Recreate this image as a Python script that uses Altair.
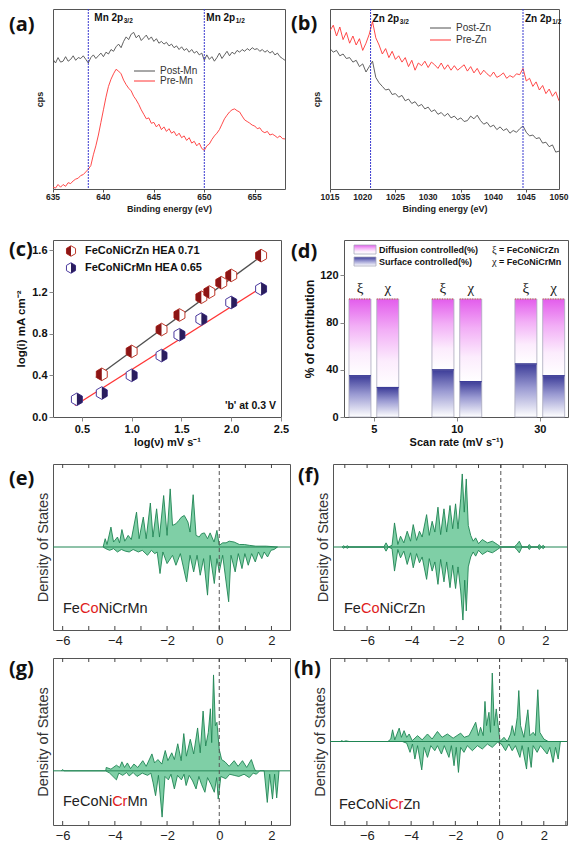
import altair as alt
import pandas as pd

FONT = "Liberation Sans"
SERIF = "Liberation Serif"
TAG_FONT = "Open Sans"

# ---------------- (a) XPS Mn 2p ----------------
a_start, a_step = 635.0, 0.25
a_post = [72, 70, 73, 70.5, 71, 73.5, 71, 72, 74, 71.5, 73, 72.5, 74, 72, 70, 73,
          74.5, 72.5, 74, 75.5, 73.5, 76, 75, 77.5, 76.5, 79, 80.5, 78.5, 82, 84.5, 83, 86,
          87, 84, 85.5, 82.5, 84, 85.5, 83, 84.5, 82, 83.5, 81, 82, 80.5, 81.5, 79.5, 80.5,
          78.5, 79.5, 77.5, 79, 77, 78, 76, 77.5, 75.5, 76.5, 74.5, 75.5, 71.5, 74.5, 72, 73.5,
          71, 73, 75.5, 72.5, 74.5, 76.5, 74, 76, 75, 77, 76, 77.5, 76.5, 78, 77, 78.5,
          77.5, 78, 76.5, 77.5, 76, 77, 75.5, 76.5, 74.5, 75.5, 73.5, 72.5, 71.5]
a_pre = [1, 0.5, 2.5, 1, 2.5, 1.5, 3.5, 3, 4.5, 5.5, 6, 7.5, 8, 9.5, 11, 13,
         19, 24, 30, 37, 44, 51, 57, 61, 64, 66.5, 65.5, 64, 60.5, 58, 56, 54.5,
         51.5, 49.5, 47, 44, 41.5, 39, 39.5, 36.5, 37, 34.5, 36, 33, 34.5, 32, 33.5, 31,
         32, 29.5, 31, 28.5, 29.5, 27, 28.5, 25.5, 26.5, 24, 25.5, 22.5, 21.5, 24, 25, 27.5,
         29.5, 31, 33, 36, 39, 41, 42.8, 44, 44.5, 43.5, 42.8, 40.5, 38.4, 37.5, 36.6, 35.5,
         35, 33.5, 34, 32, 31.3, 32, 30, 30.5, 29.6, 28.5, 29.5, 28, 27.8]
a_series = ["Post-Mn", "Pre-Mn"]
a_peaks = [638.5, 650.0]
a_peak_main = ["Mn 2p", "Mn 2p"]
a_peak_sub = ["3/2", "1/2"]
a_ticks = [635, 640, 645, 650, 655]

# ---------------- (b) XPS Zn 2p ----------------
b_start, b_step = 1015.0, 0.5
b_post = [78, 76, 77, 74, 75, 72.5, 73, 70.5, 71.5, 68, 69.5, 65, 68, 71, 62, 59,
          57, 55, 55.5, 52.5, 53, 51, 52, 49, 50, 47.5, 48.5, 46, 47, 44.5, 45.5, 43,
          44, 41.5, 42.5, 40.5, 42, 39.5, 40.5, 38.5, 39.5, 37.5, 38, 40.5, 39, 41, 38, 36,
          37, 34.5, 35.5, 33, 34.5, 32.5, 33.5, 31, 32.5, 31.5, 33.5, 35, 31.5, 29.5, 30, 28,
          28.5, 25.5, 26, 23.5, 24.5, 20.5, 21]
b_pre = [88, 91, 85, 90, 83, 87, 81, 85, 80, 83.5, 77, 81, 86, 93, 84, 80,
         75, 78, 73, 76.5, 72, 74, 70.5, 73, 68, 71.5, 66, 70, 68.5, 71, 67.5, 70.5,
         69, 67, 70, 66.5, 69, 66, 68.5, 66, 67.5, 69, 65.5, 68, 64.5, 67, 63.5, 66,
         64, 62.5, 65, 62, 63, 64.5, 61.5, 63, 62, 64, 63.5, 67, 60, 61.5, 57, 59.5,
         55, 57.5, 53, 55.5, 51.5, 54, 49]
b_series = ["Post-Zn", "Pre-Zn"]
b_peaks = [1021.2, 1044.5]
b_peak_main = ["Zn 2p", "Zn 2p"]
b_peak_sub = ["3/2", "1/2"]
b_ticks = [1015, 1020, 1025, 1030, 1035, 1040, 1045, 1050]

# ---------------- (c) log(i) vs log(v) ----------------
c_names = ["FeCoNiCrZn HEA 0.71", "FeCoNiCrMn HEA 0.65"]
c_zn_x = [0.70, 1.00, 1.30, 1.48, 1.70, 1.78, 1.90, 2.00, 2.30]
c_zn_y = [0.41, 0.63, 0.84, 0.98, 1.15, 1.20, 1.29, 1.36, 1.55]
c_mn_x = [0.45, 0.70, 1.00, 1.30, 1.48, 1.70, 2.00, 2.30]
c_mn_y = [0.17, 0.23, 0.40, 0.59, 0.79, 0.94, 1.10, 1.23]
c_fit_zn_x = [0.64, 2.31]
c_fit_zn_y = [0.38, 1.55]
c_fit_mn_x = [0.43, 2.33]
c_fit_mn_y = [0.11, 1.26]
c_xticks = [0.5, 1.0, 1.5, 2.0, 2.5]
c_yticks = [0.0, 0.4, 0.8, 1.2, 1.6]

# ---------------- (d) contributions ----------------
d_rates = ["5", "10", "30"]
d_surface_xi = [35, 40, 45]
d_surface_chi = [25, 30, 35]
d_total = 100
d_yticks = [0, 20, 40, 60, 80, 100, 120, 140]
d_legend = ["Diffusion controlled(%)", "Surface controlled(%)"]
d_symbols = [("ξ", "= FeCoNiCrZn"), ("χ", "= FeCoNiCrMn")]

# ---------------- (e)-(h) DOS ----------------
e_up_x = [-4.45, -4.37, -4.30, -4.15, -4.05, -3.90, -3.82, -3.73, -3.62, -3.49, -3.37, -3.17, -3.07,
          -2.91, -2.80, -2.64, -2.54, -2.40, -2.29, -2.13, -2.00, -1.88, -1.79, -1.66, -1.55, -1.45,
          -1.34, -1.20, -1.12, -1.00, -0.89, -0.77, -0.68, -0.57, -0.45, -0.35, -0.20, -0.09, 0.00,
          0.13, 0.26, 0.38, 0.57, 0.77, 0.96, 1.15, 1.40, 1.80, 2.23]
e_up_y = [0.00, 0.10, 0.03, 0.24, 0.06, 0.12, 0.05, 0.21, 0.07, 0.14, 0.09, 0.42, 0.10,
          0.36, 0.10, 0.53, 0.12, 0.46, 0.12, 0.62, 0.14, 0.70, 0.26, 0.28, 0.32, 0.36,
          0.38, 0.30, 0.18, 0.63, 0.14, 0.12, 0.16, 0.17, 0.10, 0.17, 0.06, 0.20, 0.02,
          0.05, 0.05, 0.07, 0.06, 0.03, 0.03, 0.02, 0.01, 0.01, 0.00]
e_dn_x = [-4.45, -4.35, -4.20, -4.05, -3.90, -3.75, -3.60, -3.45, -3.30, -3.10, -2.95, -2.75, -2.60,
          -2.47, -2.38, -2.27, -2.16, -2.00, -1.79, -1.66, -1.49, -1.25, -1.12, -0.98, -0.85, -0.73,
          -0.60, -0.45, -0.35, -0.19, -0.09, 0.00, 0.13, 0.36, 0.45, 0.61, 0.73, 0.87, 0.98,
          1.11, 1.24, 1.38, 1.50, 1.63, 1.72, 1.85, 1.98, 2.10, 2.23]
e_dn_y = [0.00, -0.02, -0.04, -0.02, -0.06, -0.03, -0.05, -0.06, -0.03, -0.06, -0.04, -0.10, -0.04,
          -0.08, -0.06, -0.32, -0.06, -0.20, -0.10, -0.22, -0.08, -0.42, -0.10, -0.30, -0.10, -0.34,
          -0.14, -0.58, -0.10, -0.44, -0.14, -0.30, -0.10, -0.66, -0.10, -0.30, -0.08, -0.26, -0.08,
          -0.22, -0.08, -0.18, -0.06, -0.14, -0.06, -0.12, -0.04, -0.03, 0.00]

f_up_x = [-7.12, -7.05, -6.98, -6.88, -6.80, -5.25, -5.15, -5.05, -4.88, -4.77, -4.62, -4.50, -4.35,
          -4.20, -4.05, -3.93, -3.78, -3.65, -3.53, -3.33, -3.21, -3.08, -2.96, -2.82, -2.70, -2.55,
          -2.43, -2.28, -2.16, -2.03, -1.92, -1.80, -1.73, -1.64, -1.55, -1.46, -1.35, -1.24, -1.13,
          -1.00, -0.83, -0.60, -0.38, -0.15, 0.00, 0.60, 0.72, 0.83, 0.95, 1.20, 1.28, 1.36,
          1.65, 1.73, 1.82, 1.90, 1.98]
f_up_y = [0.0, 0.015, 0.0, 0.015, 0.0, 0.0, 0.05, 0.0, 0.02, 0.29, 0.03, 0.13, 0.05,
          0.19, 0.07, 0.27, 0.08, 0.19, 0.12, 0.39, 0.14, 0.31, 0.18, 0.48, 0.15, 0.46,
          0.18, 0.50, 0.22, 0.52, 0.22, 0.58, 0.88, 0.42, 0.82, 0.26, 0.14, 0.07, 0.11,
          0.04, 0.09, 0.05, 0.07, 0.03, 0.0, 0.0, 0.03, 0.07, 0.0, 0.0, 0.03, 0.0,
          0.0, 0.03, 0.0, 0.02, 0.0]
f_dn_x = [-7.12, -7.05, -6.98, -6.88, -6.80, -5.25, -5.15, -5.05, -4.88, -4.77, -4.62, -4.50, -4.35,
          -4.20, -4.05, -3.93, -3.78, -3.65, -3.53, -3.33, -3.21, -3.08, -2.96, -2.82, -2.70, -2.55,
          -2.43, -2.28, -2.16, -2.03, -1.92, -1.80, -1.70, -1.62, -1.55, -1.46, -1.35, -1.24, -1.13,
          -1.00, -0.83, -0.60, -0.38, -0.15, 0.00, 0.60, 0.72, 0.83, 0.95, 1.20, 1.28, 1.36,
          1.65, 1.73, 1.82, 1.90, 1.98]
f_dn_y = [0.0, -0.015, 0.0, -0.015, 0.0, 0.0, -0.05, 0.0, -0.02, -0.29, -0.03, -0.13, -0.05,
          -0.21, -0.07, -0.25, -0.08, -0.19, -0.12, -0.39, -0.14, -0.29, -0.18, -0.45, -0.15, -0.42,
          -0.18, -0.49, -0.22, -0.50, -0.24, -0.53, -0.88, -0.40, -0.77, -0.24, -0.12, -0.06, -0.11,
          -0.04, -0.09, -0.05, -0.07, -0.03, 0.0, 0.0, -0.03, -0.07, 0.0, 0.0, -0.03, 0.0,
          0.0, -0.03, 0.0, -0.02, 0.0]

g_up_x = [-6.05, -6.00, -5.95, -4.35, -4.33, -4.15, -3.94, -3.82, -3.73, -3.63, -3.52, -3.40, -3.27,
          -3.12, -2.93, -2.80, -2.58, -2.48, -2.35, -2.20, -2.07, -1.97, -1.82, -1.72, -1.59, -1.46,
          -1.36, -1.26, -1.11, -0.98, -0.83, -0.73, -0.62, -0.52, -0.42, -0.34, -0.29, -0.22, -0.15,
          -0.09, 0.00, 0.09, 0.22, 0.38, 0.57, 0.72, 0.89, 1.05, 1.23, 1.36, 1.42]
g_up_y = [0.0, 0.012, 0.0, 0.0, 0.03, 0.015, 0.05, 0.03, 0.08, 0.03, 0.07, 0.02, 0.06,
          0.03, 0.09, 0.04, 0.15, 0.07, 0.10, 0.06, 0.18, 0.09, 0.16, 0.10, 0.24, 0.09,
          0.33, 0.13, 0.28, 0.15, 0.38, 0.16, 0.53, 0.22, 0.34, 0.55, 0.25, 0.85, 0.40,
          0.43, 0.19, 0.10, 0.08, 0.04, 0.09, 0.04, 0.09, 0.03, 0.10, 0.01, 0.0]
g_dn_x = [-4.35, -4.20, -3.94, -3.85, -3.70, -3.55, -3.45, -3.30, -3.15, -2.95, -2.75, -2.62, -2.54,
          -2.44, -2.33, -2.19, -2.08, -1.95, -1.85, -1.72, -1.60, -1.45, -1.35, -1.27, -1.15, -1.02,
          -0.89, -0.78, -0.68, -0.55, -0.45, -0.32, -0.19, -0.10, -0.04, 0.06, 0.25, 0.40, 0.57,
          0.75, 0.95, 1.15, 1.30, 1.42, 1.55, 1.72, 1.84, 1.93, 2.04, 2.12, 2.20, 2.29]
g_dn_y = [0.0, -0.02, -0.08, -0.02, -0.04, -0.015, -0.045, -0.015, -0.05, -0.02, -0.04, -0.02, -0.10,
          -0.22, -0.04, -0.41, -0.05, -0.08, -0.03, -0.16, -0.04, -0.08, -0.03, -0.13, -0.04, -0.09,
          -0.16, -0.05, -0.12, -0.19, -0.06, -0.12, -0.19, -0.06, -0.25, -0.05, -0.07, -0.03, -0.04,
          -0.05, -0.03, -0.06, -0.02, -0.03, 0.0, 0.0, -0.28, -0.03, -0.25, -0.03, -0.24, 0.0]

h_up_x = [-7.20, -7.15, -7.05, -6.95, -6.80, -5.05, -4.92, -4.84, -4.74, -4.54, -4.44, -4.32, -4.20,
          -4.09, -3.95, -3.71, -3.50, -3.26, -3.05, -2.81, -2.60, -2.36, -2.10, -1.76, -1.60, -1.38,
          -1.23, -1.08, -0.96, -0.86, -0.74, -0.66, -0.59, -0.48, -0.41, -0.33, -0.24, -0.15, -0.08,
          0.02, 0.20, 0.35, 0.50, 0.57, 0.68, 0.80, 0.87, 0.95, 1.10, 1.28, 1.37, 1.52, 1.62,
          1.73, 1.82, 2.00, 2.20]
h_up_y = [0.0, 0.01, 0.0, 0.008, 0.0, 0.0, 0.03, 0.14, 0.02, 0.16, 0.05, 0.13, 0.05,
          0.09, 0.01, 0.07, 0.02, 0.09, 0.03, 0.12, 0.05, 0.09, 0.04, 0.10, 0.05, 0.07,
          0.15, 0.23, 0.07, 0.17, 0.07, 0.48, 0.19, 0.35, 0.11, 0.82, 0.19, 0.39, 0.23,
          0.0, 0.05, 0.0, 0.09, 0.19, 0.07, 0.29, 0.61, 0.19, 0.05, 0.38, 0.07, 0.11, 0.07,
          0.62, 0.11, 0.03, 0.0]
h_dn_x = [-4.40, -4.20, -4.05, -3.94, -3.83, -3.71, -3.52, -3.41, -3.26, -3.11, -2.93, -2.81, -2.63,
          -2.50, -2.29, -2.18, -2.06, -1.96, -1.86, -1.76, -1.61, -1.46, -1.23, -1.00, -0.78, -0.55,
          -0.33, -0.10, 0.08, 0.27, 0.42, 0.57, 0.72, 0.92, 1.02, 1.22, 1.30, 1.43, 1.52,
          1.70, 1.85, 2.15, 2.27, 2.42, 2.53, 2.65, 2.75]
h_dn_y = [0.0, -0.02, -0.13, -0.03, -0.21, -0.05, -0.34, -0.07, -0.19, -0.05, -0.11, -0.05, -0.15,
          -0.05, -0.19, -0.05, -0.29, -0.07, -0.37, -0.07, -0.13, -0.05, -0.11, -0.05, -0.09, -0.03,
          -0.07, -0.01, -0.03, -0.11, -0.03, -0.11, -0.05, -0.19, -0.05, -0.33, -0.07, -0.31, -0.05,
          -0.13, -0.05, -0.15, -0.07, -0.25, -0.07, -0.21, 0.0]

dos_label_ticks = [-6, -4, -2, 0, 2]
dos_minor_ticks = [-7, -6, -5, -4, -3, -2, -1, 0, 1, 2, 3]

# ---------------- styling helpers ----------------
ARIAL = {'F': 1251, 'e': 1139, 'C': 1479, 'o': 1139, 'N': 1479, 'i': 455, 'r': 682,
         'M': 1706, 'n': 1139, 'Z': 1251}


def arial_w(s, size):
    return sum(ARIAL[c] for c in s) / 2048 * size


ONE = pd.DataFrame({'a': [0]})


def txt(s, x, y, size, weight='normal', color='#222', font=FONT, align='left',
        baseline='middle', dx=0, dy=0):
    return alt.Chart(pd.DataFrame({'t': [s]})).mark_text(
        align=align, baseline=baseline, fontSize=size, fontWeight=weight, color=color,
        font=font, dx=dx, dy=dy).encode(x=alt.value(x), y=alt.value(y), text='t:N')


def tag(label, x, y):
    return txt(label, x, y, 20, 'bold', '#111', TAG_FONT)


# ---------------- panels ----------------
def xps_panel(start, step, post, pre, names, peaks, pmain, psub, pdx, main_w, domain,
              ticks, W, H, label, lab_x, lab_y, peak_y, leg_x, leg_y):
    colors = ['#505050', '#ff3535']
    d1 = pd.DataFrame({'x': [start + step * i for i in range(len(post))], 'y': post, 's': names[0]})
    d2 = pd.DataFrame({'x': [start + step * i for i in range(len(pre))], 'y': pre, 's': names[1]})
    df = pd.concat([d1, d2], ignore_index=True)
    xs = alt.Scale(domain=domain, nice=False, zero=False)
    ys = alt.Scale(domain=[0, 100], nice=False, zero=False)
    xax = alt.Axis(values=ticks, labels=False, tickSize=3, tickColor='#555', domain=False,
                   grid=False, title='Binding energy (eV)', titleFont=FONT, titleFontSize=9,
                   titleFontWeight='bold', titleColor='#222', titlePadding=12)
    yax = alt.Axis(labels=False, ticks=False, domain=False, grid=False, title='cps',
                   titleFont=FONT, titleFontSize=9, titleFontWeight='bold',
                   titleColor='#222', titlePadding=9)
    layers = [
        alt.Chart(df).mark_line(strokeWidth=0.9, clip=True).encode(
            x=alt.X('x:Q', scale=xs, axis=xax),
            y=alt.Y('y:Q', scale=ys, axis=yax),
            color=alt.Color('s:N', scale=alt.Scale(domain=names, range=colors), legend=None)),
        alt.Chart(pd.DataFrame({'x': peaks})).mark_rule(
            color='#3a3ad0', strokeWidth=1, strokeDash=[2, 1]).encode(x='x:Q'),
        alt.Chart(pd.DataFrame({'t': ticks})).mark_text(
            baseline='top', align='center', fontSize=8.5, fontWeight='bold', font=FONT,
            color='#222').encode(x='t:Q', y=alt.value(H + 4), text=alt.Text('t:Q', format='d')),
    ]
    for p, m, s, dx in zip(peaks, pmain, psub, pdx):
        pdf = pd.DataFrame({'x': [p], 'm': [m], 's': [s]})
        layers.append(alt.Chart(pdf).mark_text(
            align='left', baseline='middle', fontSize=10, fontWeight='bold', font=FONT,
            color='#111', dx=dx).encode(x='x:Q', y=alt.value(peak_y), text='m:N'))
        layers.append(alt.Chart(pdf).mark_text(
            align='left', baseline='middle', fontSize=6.5, fontWeight='bold', font=FONT,
            color='#111', dx=dx + main_w + 0.5, dy=3).encode(x='x:Q', y=alt.value(peak_y), text='s:N'))
    for i, (nm, col) in enumerate(zip(names, colors)):
        layers.append(alt.Chart(ONE).mark_rule(color=col, strokeWidth=1).encode(
            x=alt.value(leg_x), x2=alt.value(leg_x + 21), y=alt.value(leg_y[i])))
        layers.append(txt(nm, leg_x + 26, leg_y[i], 10, 'normal', '#333'))
    layers.append(tag(label, lab_x, lab_y))
    return alt.layer(*layers).properties(width=W, height=H)


HEX = "M0,-1L0.866,-0.5L0.866,0.5L0,1L-0.866,0.5L-0.866,-0.5Z"
HEX_L = "M0,-1L-0.866,-0.5L-0.866,0.5L0,1Z"
HEX_R = "M0,-1L0.866,-0.5L0.866,0.5L0,1Z"
ZN_FILL, ZN_EDGE = '#8c1515', '#c0392b'
MN_FILL, MN_EDGE = '#2a1d5e', '#4b3a9e'


def hex_marker(df, enc, half, fill, edge, size):
    outline = alt.Chart(df).mark_point(
        shape=HEX, size=size, filled=True, fill='white', stroke=edge, strokeWidth=1,
        opacity=1, fillOpacity=1).encode(**enc)
    half_m = alt.Chart(df).mark_point(
        shape=half, size=size, filled=True, fill=fill, strokeWidth=0, opacity=1,
        fillOpacity=1).encode(**enc)
    return [outline, half_m]


def c_panel(W, H):
    xs = alt.Scale(domain=[0.21, 2.5], nice=False, zero=False)
    ys = alt.Scale(domain=[0, 1.7], nice=False, zero=False)
    xax = alt.Axis(values=c_xticks, format='.1f', labelFont=FONT, labelFontSize=11,
                   labelFontWeight='bold', labelColor='#111', tickSize=4, labelPadding=2,
                   labelFlush=False, labelOverlap=False, domain=False, grid=False,
                   title='log(ν) mV s⁻¹', titleFont=FONT, titleFontSize=11,
                   titleFontWeight='bold', titleColor='#111', titlePadding=2)
    yax = alt.Axis(values=c_yticks, format='.1f', labelFont=FONT, labelFontSize=11,
                   labelFontWeight='bold', labelColor='#111', tickSize=4, labelPadding=2,
                   domain=False, grid=False, title='log(i) mA cm⁻²', titleFont=FONT,
                   titleFontSize=11.5, titleFontWeight='bold', titleColor='#111',
                   titlePadding=5)
    fit = pd.DataFrame({'x': c_fit_zn_x + c_fit_mn_x, 'y': c_fit_zn_y + c_fit_mn_y,
                        's': ['zn'] * len(c_fit_zn_x) + ['mn'] * len(c_fit_mn_x)})
    layers = [alt.Chart(fit).mark_line(strokeWidth=1.3).encode(
        x=alt.X('x:Q', scale=xs, axis=xax), y=alt.Y('y:Q', scale=ys, axis=yax),
        color=alt.Color('s:N', scale=alt.Scale(domain=['zn', 'mn'], range=['#1c2770', '#f02828']),
                        legend=None))]
    zn = pd.DataFrame({'x': c_zn_x, 'y': c_zn_y})
    mn = pd.DataFrame({'x': c_mn_x, 'y': c_mn_y})
    enc = dict(x='x:Q', y='y:Q')
    layers += hex_marker(zn, enc, HEX_L, ZN_FILL, ZN_EDGE, 160)
    layers += hex_marker(mn, enc, HEX_R, MN_FILL, MN_EDGE, 160)
    for i, (nm, half, fill, edge) in enumerate([(c_names[0], HEX_L, ZN_FILL, ZN_EDGE),
                                                 (c_names[1], HEX_R, MN_FILL, MN_EDGE)]):
        yy = 11 + 17 * i
        layers += hex_marker(ONE, dict(x=alt.value(18), y=alt.value(yy)), half, fill, edge, 110)
        layers.append(txt(nm, 32, yy, 11, 'bold', '#111'))
    layers.append(txt("'b' at 0.3 V", W - 5, H - 11, 10.5, 'bold', '#111', align='right'))
    layers.append(tag('(c)', -44, 10))
    return alt.layer(*layers).properties(width=W, height=H)


GRAD_DIFF = {"gradient": "linear", "x1": 0, "y1": 0, "x2": 0, "y2": 1,
             "stops": [{"offset": 0, "color": "#e35cec"}, {"offset": 0.35, "color": "#f2aef6"},
                       {"offset": 0.7, "color": "#fcecfd"}, {"offset": 1, "color": "#ffffff"}]}
GRAD_SURF = {"gradient": "linear", "x1": 0, "y1": 0, "x2": 0, "y2": 1,
             "stops": [{"offset": 0, "color": "#3c3c98"}, {"offset": 0.45, "color": "#9a9ad2"},
                       {"offset": 1, "color": "#ffffff"}]}


def d_panel(W, H):
    rows = []
    for i, r in enumerate(d_rates):
        g = i + 1
        rows.append(dict(x1=g - 0.30, x2=g - 0.035, xc=g - 0.1675, surf=d_surface_xi[i],
                         base=0, total=d_total, greek=d_symbols[0][0]))
        rows.append(dict(x1=g + 0.035, x2=g + 0.30, xc=g + 0.1675, surf=d_surface_chi[i],
                         base=0, total=d_total, greek=d_symbols[1][0]))
    df = pd.DataFrame(rows)
    xs = alt.Scale(domain=[0.64, 3.34], nice=False, zero=False)
    ys = alt.Scale(domain=[0, 150], nice=False, zero=False)
    xax = alt.Axis(values=[1, 2, 3], labelExpr=f"{d_rates}[datum.value - 1]", labelFont=FONT,
                   labelFontSize=11, labelFontWeight='bold', labelColor='#111', tickSize=4,
                   labelPadding=2, labelFlush=False, domain=False, grid=False,
                   title='Scan rate (mV s⁻¹)', titleFont=FONT, titleFontSize=11,
                   titleFontWeight='bold', titleColor='#111', titlePadding=2)
    yax = alt.Axis(values=d_yticks, format='d', labelFont=FONT, labelFontSize=11,
                   labelFontWeight='bold', labelColor='#111', tickSize=4, labelPadding=2,
                   domain=False, grid=False, title='% of contribution', titleFont=FONT,
                   titleFontSize=12, titleFontWeight='bold', titleColor='#111', titlePadding=3)
    layers = [
        alt.Chart(df).mark_rect(color=GRAD_DIFF, stroke='#a9a9bd', strokeWidth=0.8).encode(
            x=alt.X('x1:Q', scale=xs, axis=xax), x2='x2:Q',
            y=alt.Y('surf:Q', scale=ys, axis=yax), y2='total:Q'),
        alt.Chart(df).mark_rect(color=GRAD_SURF, stroke='#a9a9bd', strokeWidth=0.8).encode(
            x='x1:Q', x2='x2:Q', y='base:Q', y2='surf:Q'),
        alt.Chart(df).mark_rule(color='#3c3c98', strokeWidth=1.2).encode(
            x='x1:Q', x2='x2:Q', y='surf:Q'),
        alt.Chart(df).mark_rule(color='#e03a3a', strokeDash=[1, 1.5], strokeWidth=1.2).encode(
            x='x1:Q', x2='x2:Q', y='total:Q'),
        alt.Chart(df).mark_text(font=SERIF, fontSize=15, baseline='bottom', dy=-3,
                                color='#222').encode(x='xc:Q', y='total:Q', text='greek:N'),
    ]
    for i, (lab, grad) in enumerate(zip(d_legend, [GRAD_DIFF, GRAD_SURF])):
        y0 = 5 + 12 * i
        layers.append(alt.Chart(ONE).mark_rect(color=grad, stroke='#a9a9bd', strokeWidth=0.8).encode(
            x=alt.value(10), x2=alt.value(32), y=alt.value(y0), y2=alt.value(y0 + 9)))
        layers.append(txt(lab, 35, y0 + 5, 9, 'bold', '#111'))
        sym, rest = d_symbols[i]
        layers.append(txt(sym, 148, y0 + 5, 10.5, 'normal', '#111', SERIF))
        layers.append(txt(rest, 155, y0 + 5, 9, 'bold', '#111'))
    layers.append(tag('(d)', -53, 12))
    return alt.layer(*layers).properties(width=W, height=H)


DOS_FILL = '#7fcfa6'
DOS_LINE = '#1f8553'


def dos_panel(up_x, up_y, dn_x, dn_y, xdom, ydom, W, H, parts, label, lab_x, lab_y,
              name_x, name_y):
    xs = alt.Scale(domain=xdom, nice=False, zero=False)
    ys = alt.Scale(domain=ydom, nice=False, zero=False)
    xax = alt.Axis(values=dos_label_ticks, format='d', ticks=False, domain=False, grid=False,
                   labelFont=FONT, labelFontSize=13, labelColor='#222', labelPadding=4,
                   labelFlush=False, labelOverlap=False, title=None)
    yax = alt.Axis(labels=False, ticks=False, domain=False, grid=False,
                   title='Density of States', titleFont=FONT, titleFontSize=14.5,
                   titleFontWeight='normal', titleColor='#333', titlePadding=3)
    up = pd.DataFrame({'x': up_x, 'y': up_y})
    dn = pd.DataFrame({'x': dn_x, 'y': dn_y})
    tk = pd.DataFrame({'t': [t for t in dos_minor_ticks if xdom[0] < t < xdom[1]]})
    layers = [
        alt.Chart(up).mark_area(color=DOS_FILL, opacity=1, clip=True).encode(
            x=alt.X('x:Q', scale=xs, axis=xax), y=alt.Y('y:Q', scale=ys, axis=yax),
            y2=alt.datum(0)),
        alt.Chart(dn).mark_area(color=DOS_FILL, opacity=1, clip=True).encode(
            x='x:Q', y='y:Q', y2=alt.datum(0)),
        alt.Chart(ONE).mark_rule(color=DOS_LINE, strokeWidth=1).encode(y=alt.datum(0)),
        alt.Chart(up).mark_line(color=DOS_LINE, strokeWidth=0.9, clip=True).encode(
            x='x:Q', y='y:Q'),
        alt.Chart(dn).mark_line(color=DOS_LINE, strokeWidth=0.9, clip=True).encode(
            x='x:Q', y='y:Q'),
        alt.Chart(ONE).mark_rule(color='#555', strokeDash=[4, 3], strokeWidth=1).encode(
            x=alt.datum(0)),
        alt.Chart(tk).mark_rule(color='#444', strokeWidth=1).encode(
            x='t:Q', y=alt.value(0), y2=alt.value(4)),
        alt.Chart(tk).mark_rule(color='#444', strokeWidth=1).encode(
            x='t:Q', y=alt.value(H - 4), y2=alt.value(H)),
    ]
    size = 14.5
    off = 0
    for s, col in parts:
        layers.append(txt(s, name_x + off, name_y, size, 'normal', col))
        off += arial_w(s, size)
    layers.append(tag(label, lab_x, lab_y))
    return alt.layer(*layers).properties(width=W, height=H)


BLACK, RED = '#222222', '#e0201c'

pa = xps_panel(a_start, a_step, a_post, a_pre, a_series, a_peaks, a_peak_main, a_peak_sub,
               [6, 2], 28.9, [635, 658], a_ticks, 232, 180, '(a)', -44, 16, 9, 81, [62, 72])
pb = xps_panel(b_start, b_step, b_post, b_pre, b_series, b_peaks, b_peak_main, b_peak_sub,
               [2, 2], 26.7, [1015, 1050], b_ticks, 229, 180, '(b)', -39, 15, 10, 100, [19, 31])
pc = c_panel(228, 177)
pdd = d_panel(224, 177)
pe = dos_panel(e_up_x, e_up_y, e_dn_x, e_dn_y, [-6.37, 2.71], [-1, 1], 237, 166,
               [('Fe', BLACK), ('Co', RED), ('NiCrMn', BLACK)], '(e)', -44, 15, 10, 145)
pf = dos_panel(f_up_x, f_up_y, f_dn_x, f_dn_y, [-7.53, 2.97], [-1, 1], 234, 166,
               [('Fe', BLACK), ('Co', RED), ('NiCrZn', BLACK)], '(f)', -35, 12, 11, 145)
pg = dos_panel(g_up_x, g_up_y, g_dn_x, g_dn_y, [-6.37, 2.71], [-0.48, 1], 237, 167,
               [('FeCoNi', BLACK), ('Cr', RED), ('Mn', BLACK)], '(g)', -44, 11, 10, 144)
ph = dos_panel(h_up_x, h_up_y, h_dn_x, h_dn_y, [-7.67, 3.05], [-1, 1], 237, 167,
               [('FeCoNi', BLACK), ('Cr', RED), ('Zn', BLACK)], '(h)', -36, 11, 9, 147)

row1 = alt.hconcat(pa, pb, spacing=45, bounds='flush')
row2 = alt.hconcat(pc, pdd, spacing=63, bounds='flush')
row3 = alt.hconcat(pe, pf, spacing=43, bounds='flush')
row4 = alt.hconcat(pg, ph, spacing=40, bounds='flush')
top = alt.vconcat(row1, row2, spacing=25)
bottom = alt.vconcat(row3, row4, spacing=9)

chart = (alt.vconcat(top, bottom, spacing=15)
         .properties(padding=0, background='white')
         .configure(font=FONT)
         .configure_axis(labelOverlap=False)
         .configure_view(stroke='#555', strokeWidth=1))

chart.save("out.html", embed_options={"renderer": "svg", "actions": False})
